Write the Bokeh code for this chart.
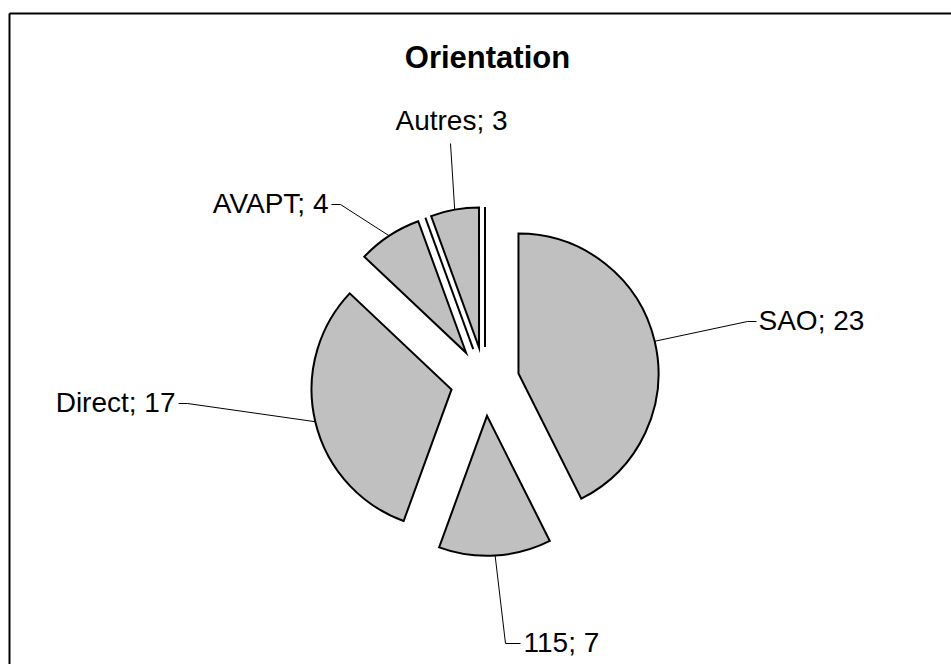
import numpy as np
import pandas as pd
from bokeh.plotting import figure
from bokeh.models import Range1d, ColumnDataSource
from bokeh.core.properties import value
from bokeh.embed import file_html
from bokeh.resources import INLINE

# ---------------- data ----------------
chart_title = "Orientation"
categories = ["SAO", "115", "Direct", "AVAPT", "", "Autres", ""]
counts = [23, 7, 17, 4, 0, 3, 0]

# ---------------- layout (screen pixels, y down) ----------------
W, H = 951, 664
def Y(sy):
    return H - sy

CX, CY = 484.5, 381.0      # pie centre
R = 140.0                  # radius
EXPLODE = 34.4             # explosion distance
FILL = "#C0C0C0"
FONT = "Liberation Sans"

# label layout: elbow point, tick end x, text x, text y, align
label_layout = {
    "SAO":    dict(elbow=(747, 321), tick=756, tx=758, ty=320, align="left"),
    "115":    dict(elbow=(505, 643), tick=520, tx=523, ty=642, align="left"),
    "Direct": dict(elbow=(187, 403), tick=178, tx=175, ty=402, align="right"),
    "AVAPT":  dict(elbow=(340, 204), tick=331, tx=328, ty=203, align="right"),
    "Autres": dict(elbow=(450, 143), tick=450, tx=451, ty=120, align="center"),
}

# ---------------- geometry from data ----------------
vals = np.array(counts, dtype=float)
total = vals.sum()
cum = np.concatenate([[0.0], np.cumsum(vals)])
t0 = cum[:-1] / total * 2 * np.pi          # clockwise from top
t1 = cum[1:] / total * 2 * np.pi
tm = (t0 + t1) / 2
ox = CX + EXPLODE * np.sin(tm)
oy = Y(CY) + EXPLODE * np.cos(tm)

df = pd.DataFrame(dict(name=categories, val=vals, x=ox, y=oy,
                       start=np.pi / 2 - t1, end=np.pi / 2 - t0, tm=tm, t0=t0))
nz = df[df.val > 0]
zz = df[df.val == 0]

p = figure(width=W, height=H, x_range=Range1d(0, W), y_range=Range1d(0, H),
           output_backend="svg", toolbar_location=None, min_border=0,
           background_fill_color="white", border_fill_color="white")
p.axis.visible = False
p.grid.visible = False
p.outline_line_color = None

# chart border (left and top visible)
p.segment(x0=[9, 9], y0=[Y(13), Y(13)], x1=[9, 970], y1=[Y(700), Y(13)],
          line_color="black", line_width=2)

# slices
p.wedge(x="x", y="y", radius=R, start_angle="start", end_angle="end",
        direction="anticlock", source=ColumnDataSource(nz),
        fill_color=FILL, line_color="black", line_width=2, line_join="miter")

# zero-value slices appear as single lines
p.segment(x0=zz["x"], y0=zz["y"], x1=zz["x"] + R * np.sin(zz["t0"]),
          y1=zz["y"] + R * np.cos(zz["t0"]), line_color="black", line_width=2)

# leader lines and labels
for _, r in nz.iterrows():
    L = label_layout[r["name"]]
    ax = r["x"] + R * np.sin(r["tm"])
    ay = r["y"] + R * np.cos(r["tm"])
    ex, ey = L["elbow"]
    p.line([ax, ex, L["tick"]], [ay, Y(ey), Y(ey)], line_color="black", line_width=1)
    p.text(x=[L["tx"]], y=[Y(L["ty"])], text=[f"{r['name']}; {int(r['val'])}"],
           text_font=value(FONT), text_font_size="28px", text_color="black",
           text_align=L["align"], text_baseline="middle")

# title
p.text(x=[487], y=[Y(57)], text=[chart_title], text_font=value(FONT),
       text_font_size="31px", text_font_style="bold", text_color="black",
       text_align="center", text_baseline="middle")

open("out.html", "w").write(file_html(p, INLINE))
